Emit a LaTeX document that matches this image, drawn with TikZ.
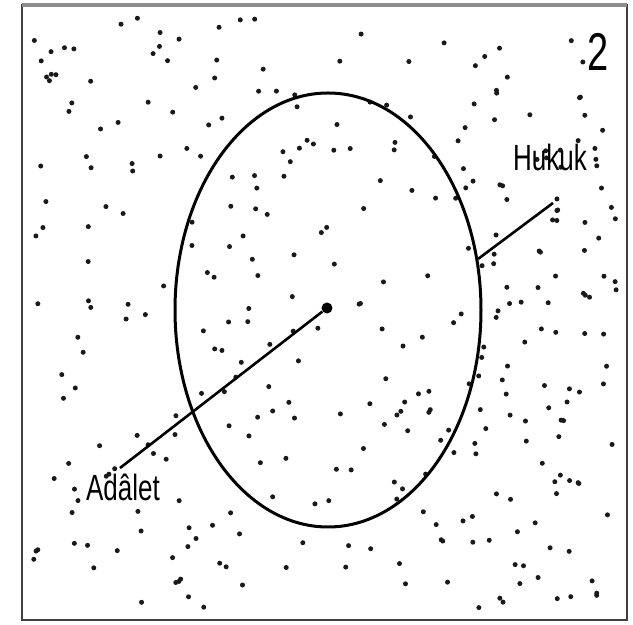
\documentclass[tikz,border=0pt]{standalone}
\usepackage{fontspec}
\setmainfont{Liberation Sans}
\tikzset{
  label text/.style={inner sep=0pt, font=\fontsize{13}{14}\selectfont},
  speck/.style={fill=black!90, draw=none}
}
\begin{document}
\begin{tikzpicture}[x=0.5pt, y=-0.5pt]
        \useasboundingbox (0,0) rectangle (633,625);
        % Frame
        \draw[line width=1.4pt, black!75] (22,5) rectangle (627,620);
        \draw[line width=2.4pt, black!45] (22,5) -- (627,5);

        % Specks
        \pgfmathsetseed{4711}
        \foreach \i in {1,...,340} {
            \pgfmathsetmacro{\px}{32+585*rnd}
            \pgfmathsetmacro{\py}{18+590*rnd}
            \fill[speck] (\px,\py) circle (2.5);
        }

        % Circle and centre
        \draw[line width=1.5pt] (328,310) ellipse (153 and 217);
        \node[circle, fill=black, inner sep=0pt, minimum size=5.5pt] (centre) at (327,308) {};

        % Labels
        \node[label text] (adalet) at (123,487) {\scalebox{1}[1.4]{Adâlet}};
        \node[label text] (hukuk) at (550,157) {\scalebox{1}[1.4]{Hukuk}};
        \node[inner sep=0pt, font=\fontsize{19}{19}\selectfont] (num) at (598,52) {\scalebox{1}[1.4]{2}};

        % Lines
        \coordinate (adaletend) at (120,468);
        \coordinate (hukukstart) at (478,259);
        \coordinate (hukukend) at (553,203);
        \draw[line width=1.3pt] (adaletend) -- (centre);
        \draw[line width=1.3pt] (hukukstart) -- (hukukend);
\end{tikzpicture}
\end{document}
